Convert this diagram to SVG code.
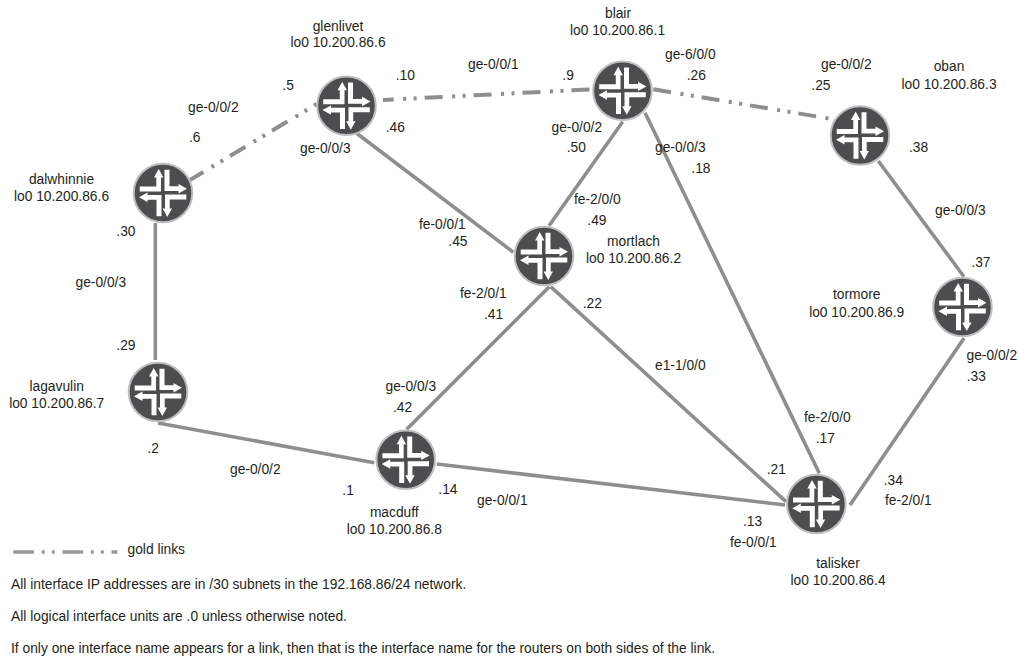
<svg xmlns="http://www.w3.org/2000/svg" width="1019" height="658" viewBox="0 0 1019 658">
<style>
text{font-family:"Liberation Sans",Arial,sans-serif;font-size:13.8px;fill:#231f20}
.m{text-anchor:middle}
.l{fill:none;stroke:#8e8e8e;stroke-width:3.6}
.g{stroke-width:4;stroke-dasharray:18 9.5 3 7.5 3 8}
.c{fill:#4d4d4f;stroke:#bcbec0;stroke-width:2}
.a{fill:#fff}
</style>
<defs>
<polygon id="q" points="-4.3,-24 -9,-15.5 -6.7,-15.5 -6.7,-6.5 -23.3,-6.5 -23.3,-1.5 -2,-1.5 -2,-15.5 0.4,-15.5"/>
<g id="r"><circle class="c" r="29.3"/><g class="a"><use href="#q"/><use href="#q" transform="rotate(90)"/><use href="#q" transform="rotate(180)"/><use href="#q" transform="rotate(270)"/></g></g>
</defs>
<g id="connectors">
<path class="l g" stroke-dashoffset="2.4" d="M190,180L316.7,104"/>
<path class="l g" stroke-dashoffset="7.3" d="M383,100L591.7,89.3"/>
<path class="l g" d="M653.3,89.3L829,118.5"/>
<path class="l" d="M155.3,223V360"/>
<path class="l" d="M158,423L374.3,462.7"/>
<path class="l" d="M356.7,133.3L513.3,252.3"/>
<path class="l" d="M622.7,121.7L549,225.7"/>
<path class="l" d="M645,112.7L819.3,473.3"/>
<path class="l" d="M549.3,286.7L406.7,429.3"/>
<path class="l" d="M550.7,286.7L786,501.7"/>
<path class="l" d="M436.7,464L785,505"/>
<path class="l" d="M878.3,161L964,276.7"/>
<path class="l" d="M964,338.3L850,505"/>
<path class="l" d="M13.3,552H117.3" style="stroke:#999;stroke-width:3.4;stroke-dasharray:20.7 7.7 3 7 3 7.7"/>
</g>
<g id="glenlivet"><use href="#r" x="346.5" y="105.8"/><text class="m" x="338" y="31">glenlivet</text><text class="m" x="338" y="46.7">lo0 10.200.86.6</text></g>
<g id="blair"><use href="#r" x="622.5" y="90.7"/><text class="m" x="618" y="18.3">blair</text><text class="m" x="617.5" y="35">lo0 10.200.86.1</text></g>
<g id="oban"><use href="#r" x="860" y="135.5"/><text class="m" x="949" y="71">oban</text><text class="m" x="949" y="89">lo0 10.200.86.3</text></g>
<g id="dalwhinnie"><use href="#r" x="163" y="193"/><text class="m" x="61.5" y="184">dalwhinnie</text><text class="m" x="61.5" y="201">lo0 10.200.86.6</text></g>
<g id="mortlach"><use href="#r" x="544" y="256"/><text class="m" x="633.5" y="246">mortlach</text><text class="m" x="633.5" y="262.7">lo0 10.200.86.2</text></g>
<g id="tormore"><use href="#r" x="962.5" y="307"/><text class="m" x="856.7" y="298.7">tormore</text><text class="m" x="856.7" y="316.7">lo0 10.200.86.9</text></g>
<g id="lagavulin"><use href="#r" x="158" y="392"/><text class="m" x="56.7" y="390.7">lagavulin</text><text class="m" x="56.7" y="407.7">lo0 10.200.86.7</text></g>
<g id="macduff"><use href="#r" x="405.7" y="459.7"/><text class="m" x="394.3" y="517">macduff</text><text class="m" x="394.3" y="534.3">lo0 10.200.86.8</text></g>
<g id="talisker"><use href="#r" x="816.3" y="504"/><text class="m" x="838" y="568.3">talisker</text><text class="m" x="838" y="585">lo0 10.200.86.4</text></g>
<g id="labels">
<text x="188" y="111.7">ge-0/0/2</text><text x="189" y="141.7">.6</text><text x="282.3" y="90">.5</text><text x="395.7" y="80">.10</text><text x="468" y="69">ge-0/0/1</text><text x="562.3" y="80">.9</text>
<text x="665" y="59">ge-6/0/0</text><text x="686.7" y="80">.26</text><text x="821" y="69">ge-0/0/2</text><text x="811.3" y="90">.25</text><text x="909" y="152">.38</text><text x="935" y="215">ge-0/0/3</text><text x="971.3" y="266.7">.37</text>
<text x="966.5" y="360">ge-0/0/2</text><text x="966.7" y="381">.33</text><text x="883.7" y="485">.34</text><text x="885" y="505">fe-2/0/1</text>
<text x="804" y="421.7">fe-2/0/0</text><text x="815.7" y="442.7">.17</text><text x="766.7" y="474">.21</text><text x="743" y="525.7">.13</text><text x="730" y="546.7">fe-0/0/1</text>
<text x="385.7" y="132">.46</text><text x="300" y="153.3">ge-0/0/3</text><text x="551.5" y="132.3">ge-0/0/2</text><text x="566.7" y="152">.50</text><text x="655" y="152.3">ge-0/0/3</text><text x="691.3" y="173.3">.18</text>
<text x="574" y="204">fe-2/0/0</text><text x="587.3" y="225">.49</text><text x="419" y="229.3">fe-0/0/1</text><text x="448.3" y="246">.45</text><text x="460" y="297.7">fe-2/0/1</text><text x="484" y="319">.41</text><text x="582.7" y="307.7">.22</text><text x="655" y="370">e1-1/0/0</text>
<text x="385.5" y="391">ge-0/0/3</text><text x="393" y="411.5">.42</text><text x="116.3" y="236">.30</text><text x="75.5" y="286.7">ge-0/0/3</text><text x="116.3" y="350">.29</text><text x="147.3" y="453">.2</text><text x="230" y="474">ge-0/0/2</text><text x="342.3" y="495">.1</text><text x="438.3" y="494">.14</text><text x="477" y="505">ge-0/0/1</text>
<text x="127.5" y="553.7">gold links</text>
<text x="11" y="588.7">All interface IP addresses are in /30 subnets in the 192.168.86/24 network.</text>
<text x="11" y="620.7">All logical interface units are .0 unless otherwise noted.</text>
<text x="11" y="653">If only one interface name appears for a link, then that is the interface name for the routers on both sides of the link.</text>
</g>
</svg>
